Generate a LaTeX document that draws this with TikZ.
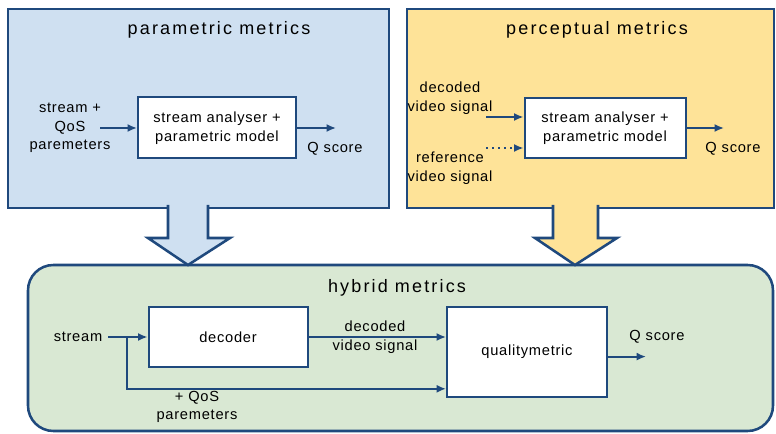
\documentclass[tikz,border=0pt]{standalone}
\usepackage{fontspec}
\setmainfont{Liberation Sans}
\usetikzlibrary{arrows.meta,calc}

\definecolor{navy}{RGB}{31,73,125}
\definecolor{paramblue}{RGB}{207,224,241}
\definecolor{percyellow}{RGB}{254,227,152}
\definecolor{hybgreen}{RGB}{217,232,211}

\tikzset{every picture/.style={line width=0.75pt}}
\tikzset{
	panel/.style={draw=navy, line width=1.9pt},
	block/.style={draw=navy, line width=1.5pt, fill=white, inner sep=0pt},
	conn/.style={draw=navy, line width=1.5pt, -{Latex[length=7pt,width=6pt]}},
	txt/.style={font=\fontsize{11}{14}\selectfont\addfontfeatures{LetterSpace=5}, align=center, inner sep=0pt},
	headtxt/.style={font=\fontsize{13.5}{16}\selectfont\addfontfeatures{LetterSpace=12}, inner sep=0pt}}

\begin{document}
\begin{tikzpicture}[x=0.75pt,y=0.75pt,yscale=-1,xscale=1]
	\useasboundingbox (0,0) rectangle (776,434);

	%Shape: Panels
	\draw[panel, fill=paramblue] (8,9) rectangle (389,208);
	\draw[panel, fill=percyellow] (407,9) rectangle (774,208);
	\draw[panel, fill=hybgreen, rounded corners=19pt] (28,265) rectangle (773,431);

	%Shape: Block arrows
	\draw[panel, fill=paramblue, line join=miter] (168,205) -- (168,238) -- (148,238) -- (188,265) -- (230,238) -- (208,238) -- (208,205);
	\draw[panel, fill=percyellow, line join=miter] (553,205) -- (553,238) -- (535,238) -- (575,265) -- (617,238) -- (598,238) -- (598,205);

	% Text Node
	\node[headtxt] (ptitle) at (219,30) {parametric metrics};
	% Text Node
	\node[headtxt] (ctitle) at (597,30) {perceptual metrics};
	% Text Node
	\node[headtxt] (htitle) at (397,288) {hybrid metrics};

	%parametric
	\node[block, txt, minimum width=118.5pt, minimum height=45.75pt] (pbox) at (217,128) {stream analyser +\\parametric model};
	\node[txt] (pin) at (70,128) {stream +\\QoS\\paremeters};
	\coordinate (pinstart) at (100,128);
	\draw[conn] (pinstart) -- (pbox.west);
	\coordinate (pout) at (336,128);
	\draw[conn] (pbox.east) -- (pbox.east -| pout);
	\node[txt] (pq) at (335,149) {Q score};

	%perceptual
	\node[block, txt, minimum width=120.75pt, minimum height=45pt] (cbox) at (605,128) {stream analyser +\\parametric model};
	\node[txt] (cdec) at (450,98) {decoded\\video signal};
	\coordinate (cdecin) at (486,117);
	\draw[conn] (cdecin) -- (cdecin -| cbox.west);
	\node[txt] (cref) at (450,168) {reference\\video signal};
	\coordinate (crefin) at (486,148);
	\draw[conn, dash pattern=on 1.5pt off 3pt] (crefin) -- (crefin -| cbox.west);
	\coordinate (cout) at (724,127);
	\draw[conn] (cbox.east) -- (cbox.east -| cout);
	\node[txt] (cq) at (733,149) {Q score};

	%hybrid
	\node[block, txt, minimum width=119.25pt, minimum height=45pt] (dec) at (228,337) {decoder};
	\node[block, txt, minimum width=120pt, minimum height=67.5pt] (qm) at (527,352) {qualitymetric};
	\node[txt] (hs) at (78,337) {stream};
	\coordinate (br) at (127,337);
	\draw[conn, shorten <=4pt] (hs.east) -- (dec.west);
	\draw[conn] (br) |- ($(qm.south west)!0.1!(qm.north west)$);
	\draw[conn] (dec.east) -- (dec.east -| qm.west);
	\node[txt] (hdec) at (375,337) {decoded\\video signal};
	\node[txt] (hqos) at (197,407) {+ QoS\\paremeters};
	\coordinate (qmout) at ($(qm.north east)!0.55!(qm.south east)$);
	\coordinate (hout) at (646,357);
	\draw[conn] (qmout) -- (qmout -| hout);
	\node[txt] (hq) at (657,337) {Q score};

\end{tikzpicture}
\end{document}
